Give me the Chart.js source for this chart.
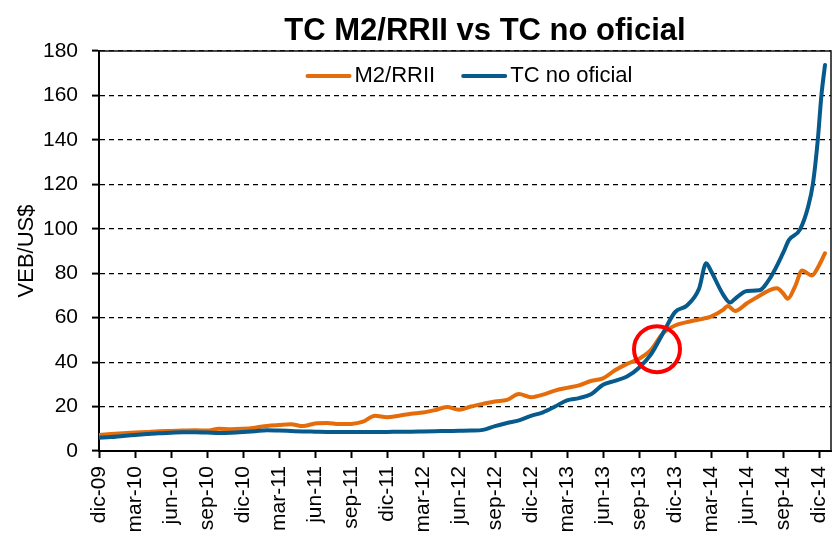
<!DOCTYPE html>
<html>
<head>
<meta charset="utf-8">
<script src="https://cdn.jsdelivr.net/npm/chart.js@4/dist/chart.umd.min.js"></script>
<style>
  html, body { margin: 0; padding: 0; background: #fff; }
  #wrap { width: 835px; height: 534px; }
</style>
</head>
<body>
<div id="wrap"><canvas id="chart"></canvas></div>
<script>
// x values are months counted from dic-09 (0 = dic-09, 60 = dic-14)
const tickLabels = ['dic-09', 'mar-10', 'jun-10', 'sep-10', 'dic-10', 'mar-11', 'jun-11', 'sep-11',
  'dic-11', 'mar-12', 'jun-12', 'sep-12', 'dic-12', 'mar-13', 'jun-13', 'sep-13',
  'dic-13', 'mar-14', 'jun-14', 'sep-14', 'dic-14'];

// M2/RRII
const m2Months = [0, 1, 2, 3, 4, 5, 6, 7, 8, 9, 10, 11, 12, 13, 14, 15, 16, 17, 18, 19, 20,
  21, 22, 23, 24, 25, 26, 27, 28, 29, 30, 31, 32, 33, 34, 35, 36, 37, 38, 39, 40,
  41, 42, 43, 44, 45, 46, 47, 48, 49, 50, 51, 52, 52.4, 53, 54, 55, 56, 56.5, 57, 57.4,
  58, 58.6, 59.4, 60, 60.5];
const m2Values = [7.2, 7.6, 8.0, 8.3, 8.6, 8.9, 9.0, 9.2, 9.3, 9.2, 10.0, 9.8, 10.0, 10.5, 11.3, 11.7, 12.0, 11.2, 12.4, 12.6, 12.1,
  12.2, 13.2, 15.9, 15.2, 15.9, 16.8, 17.3, 18.4, 19.8, 18.6, 20.0, 21.2, 22.3, 23.0, 25.6, 24.2, 25.4, 27.2, 28.4, 29.5,
  31.5, 32.7, 36.3, 39.2, 41.5, 45.5, 53.0, 56.5, 58.0, 59.2, 60.5, 63.5, 65.3, 63.0, 66.5, 69.8, 72.6, 73.2, 71.0, 68.5,
  74.0, 81.2, 79.0, 83.5, 89.0];

// TC no oficial
const tcMonths = [0, 1, 2, 3, 4, 5, 6, 7, 8, 9, 10, 11, 12, 13, 14, 15, 16, 17, 18, 19, 20,
  21, 22, 23, 24, 25, 26, 27, 28, 29, 30, 31, 32, 33, 34, 35, 36, 37, 38, 39, 40,
  41, 42, 43, 44, 45, 46, 47, 48, 49, 50, 50.6, 51, 52, 52.6, 53, 54, 55, 56, 57,
  57.5, 58.4, 59.1, 59.5, 59.9, 60.2, 60.5];
const tcValues = [6.0, 6.3, 6.8, 7.2, 7.6, 8.0, 8.2, 8.4, 8.4, 8.3, 8.1, 8.2, 8.5, 8.9, 9.3, 9.2, 9.0, 8.8, 8.7, 8.6, 8.6,
  8.6, 8.6, 8.6, 8.6, 8.7, 8.7, 8.8, 8.9, 9.0, 9.1, 9.2, 9.5, 11.2, 12.6, 13.8, 15.8, 17.4, 20.0, 22.8, 23.8,
  25.5, 29.8, 31.6, 33.5, 37.5, 43.5, 53.0, 62.5, 65.5, 73.0, 84.5, 81.0, 70.5, 66.8, 68.5, 72.0, 72.3, 78.5, 89.0,
  95.0, 99.5, 110.0, 120.5, 140.0, 160.0, 173.7];

// highlighted crossing point
const circleMonth = 46.5;
const circleValue = 45.8;

const ORANGE = '#E46C0A';
const BLUE = '#075A8C';
const FONT = '"Liberation Sans", Arial, sans-serif';

// title, plot frame and a legend sitting inside the plot area
const decorPlugin = {
    id: 'decorPlugin',
    afterDraw(chart) {
        const ctx = chart.ctx;
        const area = chart.chartArea;
        ctx.save();
        ctx.strokeStyle = '#111';
        ctx.lineWidth = 1.5;
        ctx.beginPath();
        ctx.moveTo(area.left, area.top);
        ctx.lineTo(area.right, area.top);
        ctx.lineTo(area.right, area.bottom);
        ctx.stroke();

        ctx.fillStyle = '#000';
        ctx.font = 'bold 31px ' + FONT;
        ctx.textAlign = 'center';
        ctx.textBaseline = 'alphabetic';
        ctx.fillText('TC M2/RRII vs TC no oficial', 485, 40);

        // legend
        const items = chart.data.datasets.slice(0, 2);
        const lineLen = 46, lineGap = 3, itemGap = 26;
        ctx.font = '22px ' + FONT;
        const widths = items.map(d => lineLen + lineGap + ctx.measureText(d.label).width);
        const total = widths.reduce((a, b) => a + b, 0) + itemGap * (items.length - 1);
        let x = (area.left + area.right) / 2 + 4 - total / 2;
        const y = 76;
        ctx.textAlign = 'left';
        ctx.textBaseline = 'middle';
        ctx.lineCap = 'round';
        items.forEach((d, i) => {
            ctx.strokeStyle = d.borderColor;
            ctx.lineWidth = 4;
            ctx.beginPath();
            ctx.moveTo(x + 2, y);
            ctx.lineTo(x + lineLen - 2, y);
            ctx.stroke();
            ctx.fillStyle = '#000';
            ctx.fillText(d.label, x + lineLen + lineGap, y);
            x += widths[i] + itemGap;
        });
        ctx.restore();
    }
};

const toPoints = (xs, ys) => xs.map((x, i) => ({ x: x, y: ys[i] }));

const ctx = document.getElementById('chart').getContext('2d');
new Chart(ctx, {
    type: 'line',
    data: {
        datasets: [{
            label: 'M2/RRII',
            data: toPoints(m2Months, m2Values),
            borderColor: ORANGE,
            backgroundColor: ORANGE,
            borderWidth: 4,
            borderCapStyle: 'round',
            borderJoinStyle: 'round',
            pointRadius: 0,
            cubicInterpolationMode: 'monotone',
            order: 2
        }, {
            label: 'TC no oficial',
            data: toPoints(tcMonths, tcValues),
            borderColor: BLUE,
            backgroundColor: BLUE,
            borderWidth: 4,
            borderCapStyle: 'round',
            borderJoinStyle: 'round',
            pointRadius: 0,
            cubicInterpolationMode: 'monotone',
            order: 1
        }, {
            label: 'circle',
            data: [{ x: circleMonth, y: circleValue }],
            showLine: false,
            pointRadius: 23,
            pointBorderWidth: 4,
            pointBorderColor: '#FF0000',
            pointBackgroundColor: 'rgba(0,0,0,0)',
            order: 0
        }]
    },
    options: {
        responsive: true,
        maintainAspectRatio: false,
        animation: false,
        layout: { autoPadding: false, padding: { top: 51, right: 4, left: 0, bottom: 0 } },
        plugins: {
            title: { display: false },
            tooltip: { enabled: false },
            legend: { display: false }
        },
        scales: {
            x: {
                type: 'linear',
                min: 0,
                max: 61,
                afterFit: (scale) => {
                    scale.height = 83;
                    scale.paddingLeft = 0;
                    scale.paddingRight = 0;
                },
                afterBuildTicks: (scale) => {
                    scale.ticks = tickLabels.map((_, i) => ({ value: i * 3 }));
                },
                ticks: {
                    autoSkip: false,
                    maxRotation: 90,
                    minRotation: 90,
                    padding: 8,
                    color: '#000',
                    font: { family: FONT, size: 21 },
                    callback: (v) => tickLabels[Math.round(v / 3)]
                },
                grid: {
                    drawOnChartArea: false,
                    drawTicks: true,
                    tickLength: 7,
                    tickColor: '#000',
                    tickWidth: 2
                },
                border: { color: '#000', width: 2 }
            },
            y: {
                min: 0,
                max: 180,
                afterFit: (scale) => { scale.width = 99; },
                ticks: {
                    stepSize: 20,
                    padding: 14,
                    color: '#000',
                    font: { family: FONT, size: 21 }
                },
                title: {
                    display: true,
                    text: 'VEB/US$',
                    color: '#000',
                    font: { family: FONT, size: 22 },
                    padding: { top: 14, bottom: 0 }
                },
                grid: {
                    color: '#000',
                    lineWidth: 1.2,
                    tickLength: 7,
                    tickColor: '#000',
                    tickWidth: 2
                },
                border: { color: '#000', width: 2, dash: [5, 4] }
            }
        }
    },
    plugins: [decorPlugin]
});
</script>
</body>
</html>
